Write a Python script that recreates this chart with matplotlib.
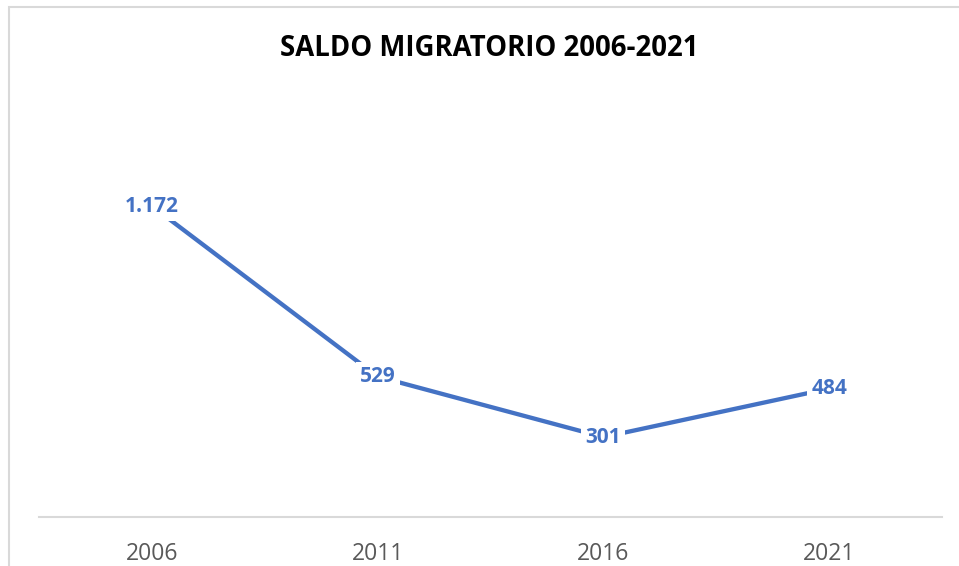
import matplotlib
matplotlib.use('Agg')
import matplotlib.pyplot as plt
from matplotlib.patches import Rectangle

# Dati
anni = ['2006', '2011', '2016', '2021']
saldo = [1172, 529, 301, 484]
etichette = ['1.172', '529', '301', '484']

blu = '#4472C4'
W, H = 959, 566

fig = plt.figure(figsize=(W / 100, H / 100), dpi=100, facecolor='white')

# Cornice del grafico (stile Excel)
fig.patches.append(Rectangle((9 / W, -0.1), 1.1, (H - 7) / H + 0.1, transform=fig.transFigure,
                             fill=False, edgecolor='#D9D9D9', linewidth=1.5))

ax = fig.add_axes([39 / W, (H - 517) / H, (942 - 39) / W, (517 - 145.5) / H])
x = list(range(len(anni)))
ax.plot(x, saldo, color=blu, linewidth=3.1, solid_capstyle='butt', zorder=2)

for xi, yi, lab in zip(x, saldo, etichette):
    ax.text(xi, yi, lab, ha='center', va='center', color=blu, fontsize=15,
            fontweight='bold', family='Open Sans', zorder=3,
            bbox=dict(boxstyle='square,pad=0.2', facecolor='white', edgecolor='none'))

ax.set_xlim(-0.5, len(anni) - 0.5)
ax.set_ylim(0, 1400)
ax.set_xticks(x)
ax.set_xticklabels(anni, color='#595959', fontsize=16.5, family='Open Sans')
ax.tick_params(axis='x', length=0, pad=18)
ax.set_yticks([])
for s in ['top', 'left', 'right']:
    ax.spines[s].set_visible(False)
ax.spines['bottom'].set_color('#D9D9D9')
ax.spines['bottom'].set_linewidth(1.5)

fig.text(489 / W, 1 - 49 / H, 'SALDO MIGRATORIO 2006-2021', ha='center', va='center',
         fontsize=19.8, fontweight='bold', family='Open Sans', color='black')

plt.savefig('out.png', dpi=100, facecolor='white')
plt.close()
